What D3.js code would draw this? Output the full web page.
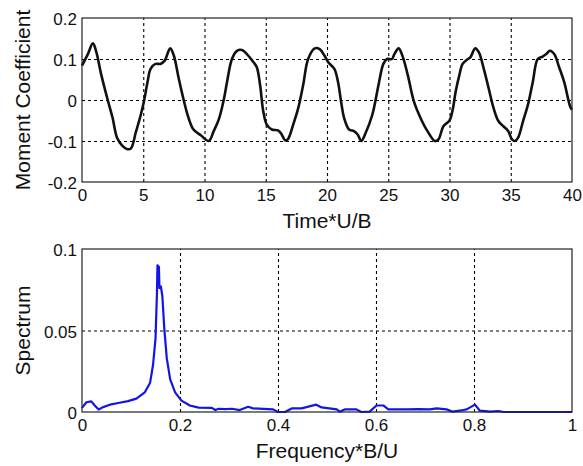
<html>
<head>
<script src="https://cdnjs.cloudflare.com/ajax/libs/d3/7.8.5/d3.min.js"></script>
<style>
  body { margin: 0; background: #fff; }
  svg text { font-family: Arial, "Liberation Sans", sans-serif; fill: #111; }
  .grid line { stroke: #000; stroke-width: 1.1; stroke-dasharray: 3,3; }
  .grid path { display: none; }
  .frame { fill: none; stroke: #222; stroke-width: 1.2; }
  .ticklab .tick line, .ticklab path { display: none; }
</style>
</head>
<body>
<script>
// time history (Time*U/B, moment coefficient)
var timeVals = [0,0.45,0.89,1.16,1.57,2.1,2.5,2.86,3.3,3.7,4.0,4.4,4.8,5.08,5.35,5.6,6.0,6.4,6.75,7.2,7.5,7.9,8.3,8.7,9.1,9.7,
  10.35,10.75,11.16,11.57,11.84,12.24,12.65,13.05,13.46,14.0,14.27,14.54,14.8,15.08,15.5,16.0,16.3,16.57,16.8,17.24,17.65,18.05,18.46,19.0,19.4,19.8,
  20.1,20.6,20.9,21.15,21.4,21.8,22.2,22.5,22.8,23.1,23.7,24.2,24.6,24.9,25.3,25.5,25.85,26.2,26.6,27.1,27.7,28.2,28.8,29.1,29.5,
  30.0,30.27,30.5,30.8,31.07,31.5,31.7,32.1,32.4,32.8,33.2,33.6,34.0,34.4,34.8,35.1,35.35,35.6,36.0,36.4,36.8,37.2,37.6,37.9,38.2,38.55,38.95,39.36,39.85,40];
var momentVals = [0.084,0.11,0.138,0.118,0.062,0,-0.044,-0.092,-0.112,-0.12,-0.118,-0.078,-0.036,0,0.044,0.076,0.088,0.088,0.096,0.126,0.108,0.052,0,-0.044,-0.072,-0.086,
  -0.1,-0.076,-0.048,0,0.044,0.1,0.12,0.122,0.112,0.092,0.08,0.036,-0.028,-0.06,-0.072,-0.074,-0.084,-0.098,-0.096,-0.06,-0.02,0.036,0.1,0.126,0.124,0.108,
  0.092,0.076,0.044,-0.004,-0.044,-0.072,-0.076,-0.084,-0.1,-0.084,-0.036,0.036,0.088,0.1,0.1,0.112,0.126,0.104,0.06,-0.004,-0.048,-0.076,-0.1,-0.096,-0.064,
  -0.05,-0.022,0.02,0.06,0.088,0.1,0.104,0.126,0.116,0.076,0.028,-0.02,-0.052,-0.064,-0.076,-0.096,-0.1,-0.092,-0.052,-0.012,0.044,0.1,0.106,0.112,0.12,0.112,0.08,0.044,-0.016,-0.024];

// spectrum (Frequency*B/U)
var freqVals = [0,0.009,0.019,0.026,0.034,0.043,0.057,0.074,0.094,0.111,0.128,0.139,0.145,0.15,0.153,0.154,0.157,0.158,0.161,0.164,0.168,0.173,0.18,0.19,0.203,0.22,0.238,
  0.265,0.272,0.279,0.292,0.306,0.322,0.339,0.349,0.39,0.4,0.414,0.428,0.448,0.478,0.489,0.52,0.526,0.536,0.56,0.57,0.587,0.601,0.615,0.625,0.663,0.686,0.71,0.724,0.744,0.757,0.778,0.785,0.802,0.812,0.833,0.85,0.86,1.0];
var spectrumVals = [0.0025,0.006,0.0065,0.004,0.0015,0.003,0.0045,0.0055,0.0067,0.0082,0.012,0.018,0.029,0.045,0.073,0.09,0.089,0.076,0.077,0.071,0.051,0.033,0.02,0.012,0.007,0.004,0.0027,
  0.0025,0.0012,0.002,0.0018,0.002,0.0012,0.0032,0.0022,0.0016,0,0,0.0022,0.0022,0.0045,0.0028,0.0016,0.0002,0.0016,0.0016,0,0.0002,0.004,0.004,0.0016,0.0016,0.0018,0.0016,0.0022,0.0016,0.0002,0.0012,0.0016,0.0045,0.0008,0.0002,0.0006,0,0];

var topXTicks = [0,5,10,15,20,25,30,35,40];
var topYTicks = [-0.2,-0.1,0,0.1,0.2];
var topYLabels = ["-0.2","-0.1","0","0.1","0.2"];
var botXTicks = [0,0.2,0.4,0.6,0.8,1];
var botXLabels = ["0","0.2","0.4","0.6","0.8","1"];
var botYTicks = [0,0.05,0.1];
var botYLabels = ["0","0.05","0.1"];

var W = 583, H = 466;
var svg = d3.select("body").append("svg").attr("width", W).attr("height", H);

function panel(opt) {
  var x = d3.scaleLinear().domain(opt.xDomain).range([opt.left, opt.right]);
  var y = d3.scaleLinear().domain(opt.yDomain).range([opt.bottom, opt.top]);
  var g = svg.append("g");

  // dotted grid, interior lines only
  g.append("g").attr("class", "grid")
    .attr("transform", "translate(0," + opt.bottom + ")")
    .call(d3.axisBottom(x).tickValues(opt.xTicks.slice(1, -1)).tickSize(-(opt.bottom - opt.top)).tickFormat(""));
  g.append("g").attr("class", "grid")
    .attr("transform", "translate(" + opt.left + ",0)")
    .call(d3.axisLeft(y).tickValues(opt.yTicks.slice(1, -1)).tickSize(-(opt.right - opt.left)).tickFormat(""));

  var line = d3.line().x(function(d){ return x(d[0]); }).y(function(d){ return y(d[1]); }).curve(opt.curve);
  g.append("path").datum(d3.zip(opt.xs, opt.ys))
    .attr("d", line)
    .attr("fill", "none")
    .attr("stroke", opt.color)
    .attr("stroke-width", opt.width)
    .attr("stroke-linejoin", "round");

  g.append("rect").attr("class", "frame")
    .attr("x", opt.left).attr("y", opt.top)
    .attr("width", opt.right - opt.left).attr("height", opt.bottom - opt.top);

  var xa = g.append("g").attr("class", "ticklab")
    .attr("transform", "translate(0," + opt.bottom + ")")
    .call(d3.axisBottom(x).tickValues(opt.xTicks).tickSize(0).tickPadding(7)
      .tickFormat(function(d, i){ return opt.xLabels[i]; }));
  xa.selectAll("text").style("font-size", "17px").attr("dy", "0.71em");

  var ya = g.append("g").attr("class", "ticklab")
    .attr("transform", "translate(" + opt.left + ",0)")
    .call(d3.axisLeft(y).tickValues(opt.yTicks).tickSize(0).tickPadding(5)
      .tickFormat(function(d, i){ return opt.yLabels[i]; }));
  ya.selectAll("text").style("font-size", "17px").attr("dy", "0.4em");

  g.append("text").attr("x", (opt.left + opt.right) / 2).attr("y", opt.xTitleY)
    .attr("text-anchor", "middle").style("font-size", "21px").text(opt.xTitle);
  g.append("text")
    .attr("transform", "translate(30," + ((opt.top + opt.bottom) / 2) + ") rotate(-90)")
    .attr("text-anchor", "middle").style("font-size", "21px").text(opt.yTitle);
}

panel({
  left: 82, right: 572, top: 18, bottom: 182,
  xDomain: [0, 40], yDomain: [-0.2, 0.2],
  xTicks: topXTicks, xLabels: topXTicks.map(String),
  yTicks: topYTicks, yLabels: topYLabels,
  xs: timeVals, ys: momentVals,
  color: "#111", width: 2.6, curve: d3.curveCatmullRom,
  xTitle: "Time*U/B", xTitleY: 228, yTitle: "Moment Coefficient"
});

panel({
  left: 82, right: 572, top: 249, bottom: 412,
  xDomain: [0, 1], yDomain: [0, 0.1],
  xTicks: botXTicks, xLabels: botXLabels,
  yTicks: botYTicks, yLabels: botYLabels,
  xs: freqVals, ys: spectrumVals,
  color: "#1414e6", width: 2.2, curve: d3.curveLinear,
  xTitle: "Frequency*B/U", xTitleY: 458, yTitle: "Spectrum"
});
</script>
</body>
</html>
